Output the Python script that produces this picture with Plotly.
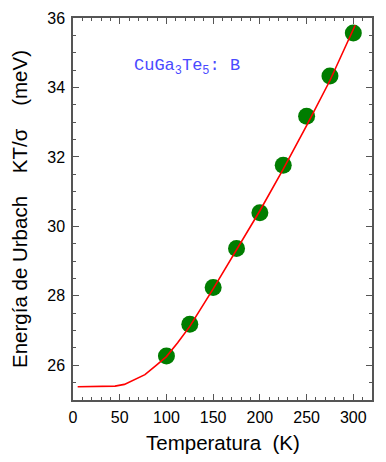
import plotly.graph_objects as go

# Measured data points
temp_pts = [100, 125, 150, 175, 200, 225, 250, 275, 300]
urbach_pts = [26.27, 27.18, 28.24, 29.36, 30.39, 31.76, 33.17, 34.33, 35.57]

# Fit curve
temp_fit = [5, 15, 25, 35, 45, 55, 65, 77, 89, 100, 112, 125, 150, 175, 200, 225, 250, 275, 302]
urbach_fit = [25.38, 25.38, 25.38, 25.385, 25.40, 25.45, 25.57, 25.73, 26.0, 26.25, 26.65, 27.12,
              28.2, 29.32, 30.45, 31.65, 32.9, 34.2, 35.79]

x_ticks = [0, 50, 100, 150, 200, 250, 300]
y_ticks = [26, 28, 30, 32, 34, 36]

fig = go.Figure()
fig.add_trace(go.Scatter(x=temp_pts, y=urbach_pts, mode="markers",
                         marker=dict(color="#007d00", size=17, line=dict(width=0)),
                         showlegend=False))
fig.add_trace(go.Scatter(x=temp_fit, y=urbach_fit, mode="lines",
                         line=dict(color="#ff0000", width=1.6), showlegend=False))

axis_common = dict(showline=True, mirror="ticks", linecolor="#555555", linewidth=1.5,
                   ticks="inside", tickcolor="#555555", tickwidth=1.2, ticklen=6,
                   showgrid=False, zeroline=False, automargin=False,
                   tickfont=dict(family="Liberation Sans, Arial", size=16, color="black"))

fig.update_xaxes(range=[0, 320], tickvals=x_ticks, ticklabelstandoff=2,
                 minor=dict(dtick=10, tick0=0, ticks="inside", ticklen=3, tickcolor="#555555", tickwidth=1),
                 **axis_common)
fig.update_yaxes(range=[25, 36], tickvals=y_ticks, ticklabelstandoff=3,
                 minor=dict(dtick=0.5, tick0=25, ticks="inside", ticklen=3, tickcolor="#555555", tickwidth=1),
                 title=dict(text="Energía de Urbach\u00a0\u00a0\u00a0\u00a0KT/σ\u00a0\u00a0\u00a0\u00a0(meV)"
                                 + "\u00a0" * 6,
                            font=dict(family="Liberation Sans, Arial", size=20.5, color="black"),
                            standoff=14),
                 **axis_common)

# x-axis title placed as a paper annotation for exact vertical placement
fig.add_annotation(x=0.5, y=-0.112, xref="paper", yref="paper", xanchor="center", yanchor="middle",
                   showarrow=False, text="Temperatura\u00a0\u00a0(K)",
                   font=dict(family="Liberation Sans, Arial", size=20.5, color="black"))

fig.add_annotation(x=63, y=34.6, xanchor="left", yanchor="middle", showarrow=False,
                   text="CuGa<sub>3</sub>Te<sub>5</sub>: B",
                   font=dict(family="Liberation Mono, Courier New, monospace", size=17, color="#4a4aff"))

# page has an 8px body margin; the figure is sized to fill the rest of the window
fig.update_layout(width=378, height=454, margin=dict(l=65, r=14, t=10, b=62),
                  plot_bgcolor="white", paper_bgcolor="white")

fig.write_html("out.html")
